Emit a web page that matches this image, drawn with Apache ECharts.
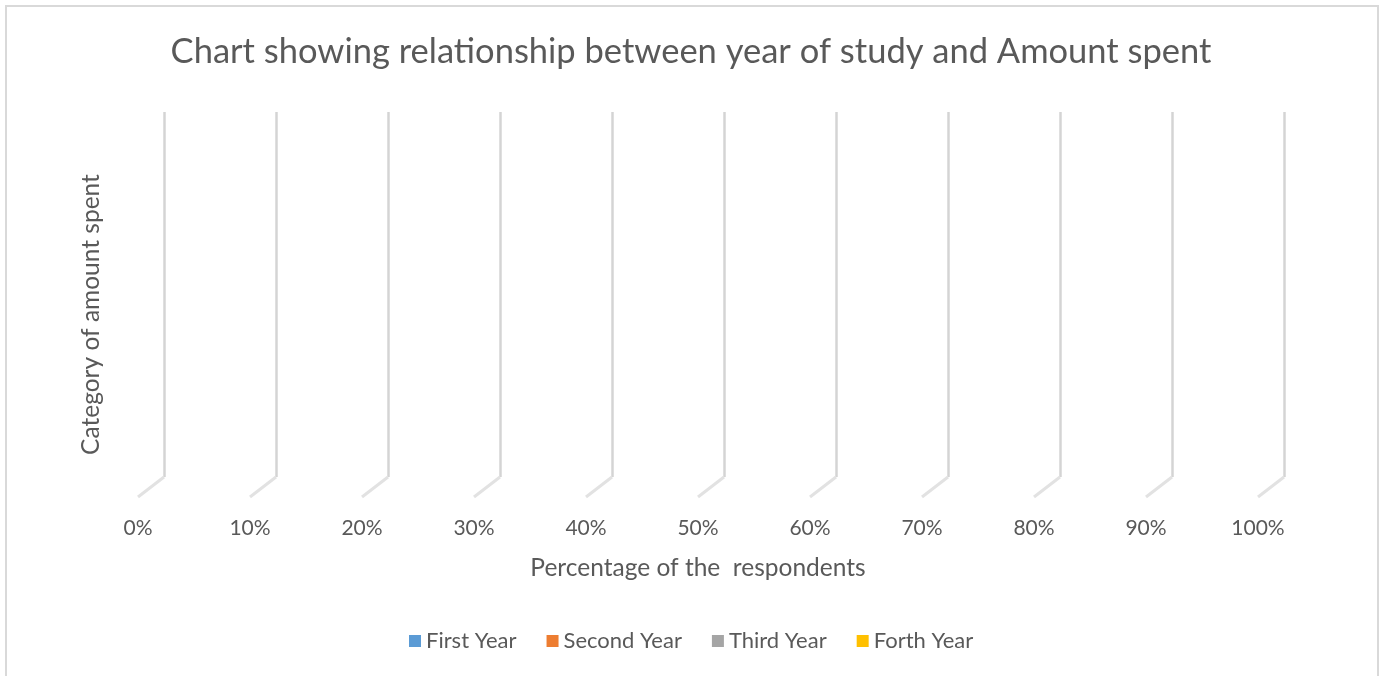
<!DOCTYPE html>
<html>
<head>
<meta charset="utf-8">
<script src="https://cdn.jsdelivr.net/npm/echarts@6/dist/echarts.min.js"></script>
<style>
  html, body { margin: 0; padding: 0; background: #fff; }
  #chart { width: 1382px; height: 676px; }
</style>
</head>
<body>
<div id="chart"></div>
<script>
// Series names and (empty) stacked values per year of study
const seriesNames = ['First Year', 'Second Year', 'Third Year', 'Forth Year'];
const seriesColors = ['#5B9BD5', '#ED7D31', '#A5A5A5', '#FFC000'];
const firstYear = [];
const secondYear = [];
const thirdYear = [];
const forthYear = [];
// Percentage axis ticks
const tickValues = [0, 10, 20, 30, 40, 50, 60, 70, 80, 90, 100];

const FONT = 'Lato';
const chart = echarts.init(document.getElementById('chart'));

// back wall grid and front-edge grid (perspective offset of the floor)
const gridBack = { left: 164, right: 98, top: 112, bottom: 199 };
const gridFront = { left: 138, right: 124, top: 132, bottom: 179 };

chart.setOption({
  animation: false,
  textStyle: { fontFamily: FONT },
  title: {
    text: 'Chart showing relationship between year of study and Amount spent',
    left: 'center',
    top: 29,
    textStyle: { fontFamily: FONT, fontSize: 34.5, fontWeight: 'normal', color: '#595959' }
  },
  legend: {
    bottom: 19,
    left: 404,
    icon: 'rect',
    itemWidth: 12,
    itemHeight: 12,
    itemGap: 30,
    textStyle: { fontFamily: FONT, fontSize: 22, color: '#595959' },
    data: seriesNames
  },
  grid: [gridBack, gridFront],
  xAxis: [
    {
      gridIndex: 0, type: 'value', min: 0, max: 100, interval: 10,
      axisLine: { show: false }, axisTick: { show: false }, axisLabel: { show: false },
      splitLine: { show: true, lineStyle: { color: '#D4D4D4', width: 2.5 } }
    },
    {
      gridIndex: 1, type: 'value', min: 0, max: 100, interval: 10,
      axisLine: { show: false }, axisTick: { show: false }, splitLine: { show: false },
      axisLabel: {
        margin: 21, fontFamily: FONT, fontSize: 21, color: '#595959',
        formatter: v => v + '%'
      },
      name: 'Percentage of the  respondents',
      nameLocation: 'middle',
      nameGap: 59,
      nameTextStyle: { fontFamily: FONT, fontSize: 24.5, color: '#595959' }
    }
  ],
  yAxis: [
    {
      gridIndex: 0, type: 'value', min: 0, max: 1,
      axisLine: { show: false }, axisTick: { show: false }, axisLabel: { show: false },
      splitLine: { show: false }
    },
    {
      gridIndex: 1, type: 'category', data: [],
      axisLine: { show: false }, axisTick: { show: false }, axisLabel: { show: false },
      splitLine: { show: false },
      name: 'Category of amount spent',
      nameLocation: 'middle',
      nameRotate: 90,
      nameGap: 34,
      nameTextStyle: { fontFamily: FONT, fontSize: 24.5, color: '#595959' }
    }
  ],
  series: [
    // floor segments running from the back wall to the front edge
    {
      type: 'custom',
      xAxisIndex: 0, yAxisIndex: 0,
      silent: true,
      legendHoverLink: false,
      data: tickValues.map(v => [v, 0]),
      renderItem: function (params, api) {
        const back = api.coord([api.value(0), 0]);
        const frontX = chart.getModel().getComponent('xAxis', 1).axis;
        const fx = frontX.toGlobalCoord(frontX.dataToCoord(api.value(0)));
        return {
          type: 'line',
          shape: { x1: back[0], y1: back[1], x2: fx, y2: back[1] + 20 },
          style: { stroke: '#E2E2E2', lineWidth: 3 }
        };
      }
    },
    { name: seriesNames[0], type: 'bar', stack: 'total', xAxisIndex: 1, yAxisIndex: 1, data: firstYear, itemStyle: { color: seriesColors[0] } },
    { name: seriesNames[1], type: 'bar', stack: 'total', xAxisIndex: 1, yAxisIndex: 1, data: secondYear, itemStyle: { color: seriesColors[1] } },
    { name: seriesNames[2], type: 'bar', stack: 'total', xAxisIndex: 1, yAxisIndex: 1, data: thirdYear, itemStyle: { color: seriesColors[2] } },
    { name: seriesNames[3], type: 'bar', stack: 'total', xAxisIndex: 1, yAxisIndex: 1, data: forthYear, itemStyle: { color: seriesColors[3] } }
  ],
  graphic: [
    {
      type: 'rect', silent: true,
      shape: { x: 6, y: 6, width: 1372, height: 680 },
      style: { fill: 'none', stroke: '#D9D9D9', lineWidth: 2 }
    }
  ]
});
</script>
</body>
</html>
